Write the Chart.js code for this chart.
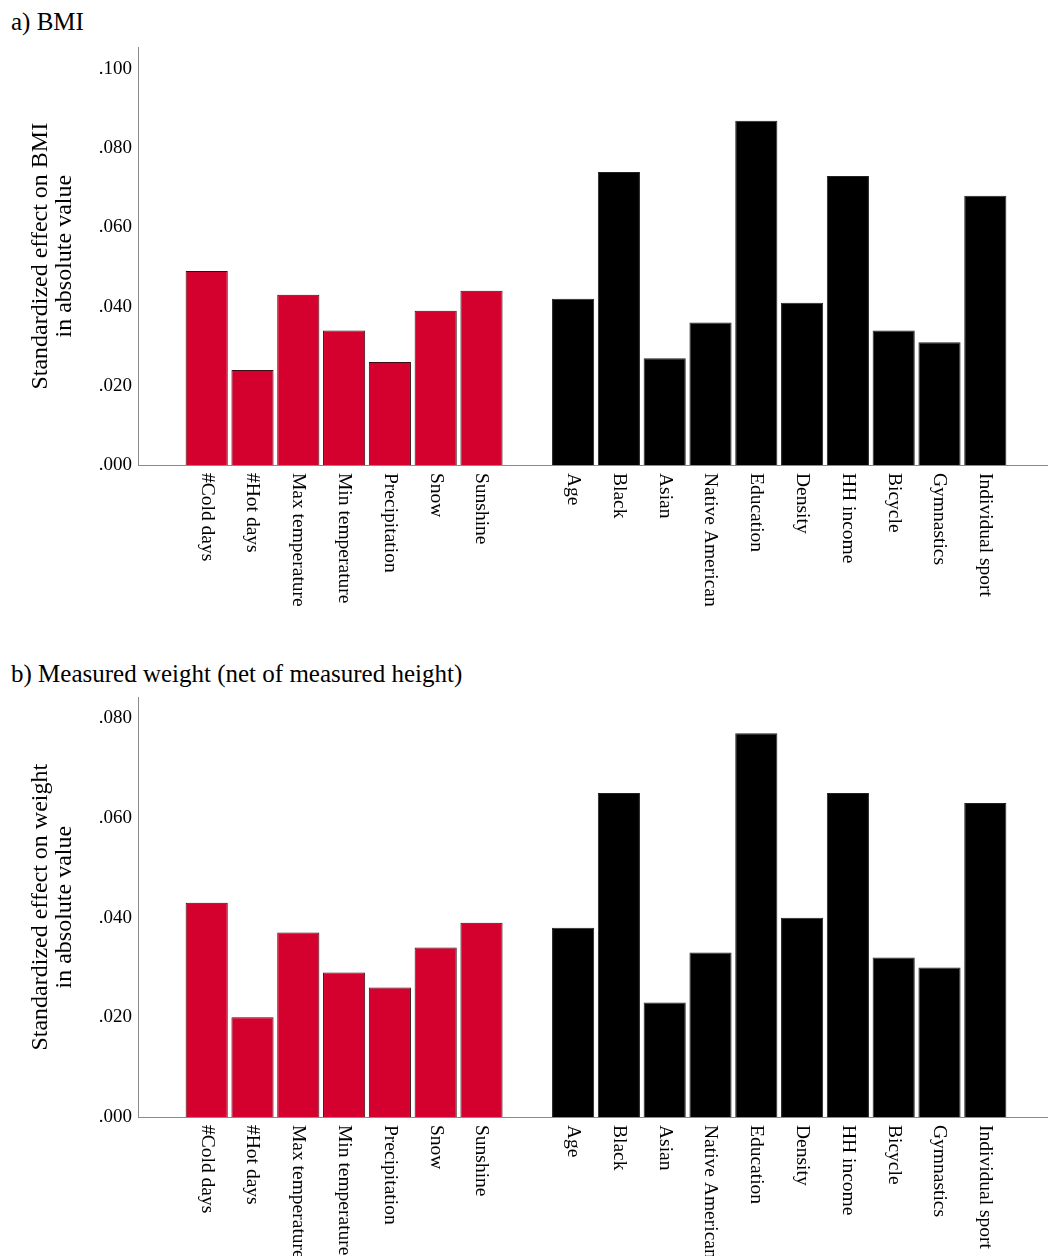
<!DOCTYPE html>
<html>
<head>
<meta charset="utf-8">
<script src="https://cdn.jsdelivr.net/npm/chart.js@4.4.0/dist/chart.umd.min.js"></script>
<style>
  body { margin: 0; background: #fff; width: 1048px; height: 1256px; overflow: hidden; position: relative; font-family: "Liberation Serif", serif; }
  .title { position: absolute; left: 11px; font-size: 25px; color: #000; white-space: nowrap; }
  .box { position: absolute; left: 0; width: 1054px; }
</style>
</head>
<body>
<div class="title" style="top:8px">a) BMI</div>
<div class="box" style="top:30px;height:600px"><canvas id="bmiChart"></canvas></div>
<div class="title" style="top:660px">b) Measured weight (net of measured height)</div>
<div class="box" style="top:680px;height:576px"><canvas id="weightChart"></canvas></div>
<script>
const weatherLabels = ["#Cold days", "#Hot days", "Max temperature", "Min temperature", "Precipitation", "Snow", "Sunshine"];
const controlLabels = ["Age", "Black", "Asian", "Native American", "Education", "Density", "HH income", "Bicycle", "Gymnastics", "Individual sport"];

const bmiWeather = [0.049, 0.024, 0.043, 0.034, 0.026, 0.039, 0.044];
const bmiControls = [0.042, 0.074, 0.027, 0.036, 0.087, 0.041, 0.073, 0.034, 0.031, 0.068];
const weightWeather = [0.043, 0.020, 0.037, 0.029, 0.026, 0.034, 0.039];
const weightControls = [0.038, 0.065, 0.023, 0.033, 0.077, 0.040, 0.065, 0.032, 0.030, 0.063];

const bmiTicks = [0, 0.02, 0.04, 0.06, 0.08, 0.1];
const weightTicks = [0, 0.02, 0.04, 0.06, 0.08];

const weatherColor = "#D4002E";
const controlColor = "#000000";

// empty slots: one before, one between the two groups, one after
const allLabels = ["", ...weatherLabels, "", ...controlLabels, ""];

// x labels read top to bottom, so draw them ourselves
const verticalLabels = {
  id: "verticalLabels",
  afterDraw(chart) {
    const xs = chart.scales.x;
    const ctx = chart.ctx;
    ctx.save();
    ctx.font = '19.5px "Liberation Serif"';
    ctx.fillStyle = "#000";
    ctx.textAlign = "left";
    ctx.textBaseline = "middle";
    chart.data.labels.forEach((lab, i) => {
      if (!lab) return;
      ctx.save();
      ctx.translate(xs.getPixelForValue(i), xs.top + 8);
      ctx.rotate(Math.PI / 2);
      ctx.fillText(lab, 0, 0);
      ctx.restore();
    });
    ctx.restore();
  }
};

function makeChart(id, weather, controls, ticks, yMax, yTitle, topPad, xHeight) {
  const values = [null, ...weather, null, ...controls, null];
  const fills = [null, ...weather.map(() => weatherColor), null, ...controls.map(() => controlColor), null];
  const borders = [null, ...weather.map(() => "#3a0d14"), null, ...controls.map(() => "#222"), null];
  return new Chart(document.getElementById(id), {
    type: "bar",
    data: {
      labels: allLabels,
      datasets: [{
        data: values,
        backgroundColor: fills,
        borderColor: borders,
        borderWidth: 1,
        barPercentage: 0.92,
        categoryPercentage: 1
      }]
    },
    options: {
      responsive: true,
      maintainAspectRatio: false,
      animation: false,
      layout: { padding: { top: topPad, left: 0, right: 0, bottom: 0 } },
      plugins: { legend: { display: false }, tooltip: { enabled: false } },
      scales: {
        x: {
          grid: { display: false, drawTicks: false },
          border: { display: true, color: "#8a8a8a", width: 1 },
          ticks: { display: false },
          afterFit: (s) => { s.height = xHeight; }
        },
        y: {
          min: 0,
          max: yMax,
          grid: { display: false, drawTicks: false },
          border: { display: true, color: "#8a8a8a", width: 1 },
          afterBuildTicks: (s) => { s.ticks = ticks.map(v => ({ value: v })); },
          afterFit: (s) => { s.width = 138; },
          ticks: {
            color: "#000",
            padding: 6,
            font: { family: "Liberation Serif", size: 19 },
            callback: (v) => "." + v.toFixed(3).split(".")[1]
          },
          title: {
            display: true,
            text: yTitle,
            color: "#000",
            padding: { top: 29, bottom: 0 },
            font: { family: "Liberation Serif", size: 24, lineHeight: 1.0 }
          }
        }
      }
    },
    plugins: [verticalLabels]
  });
}

makeChart("bmiChart", bmiWeather, bmiControls, bmiTicks, 0.1055,
  ["Standardized effect on BMI", "in absolute value"], 13, 165);
makeChart("weightChart", weightWeather, weightControls, weightTicks, 0.0842,
  ["Standardized effect on weight", "in absolute value"], 17, 139);
</script>
</body>
</html>
